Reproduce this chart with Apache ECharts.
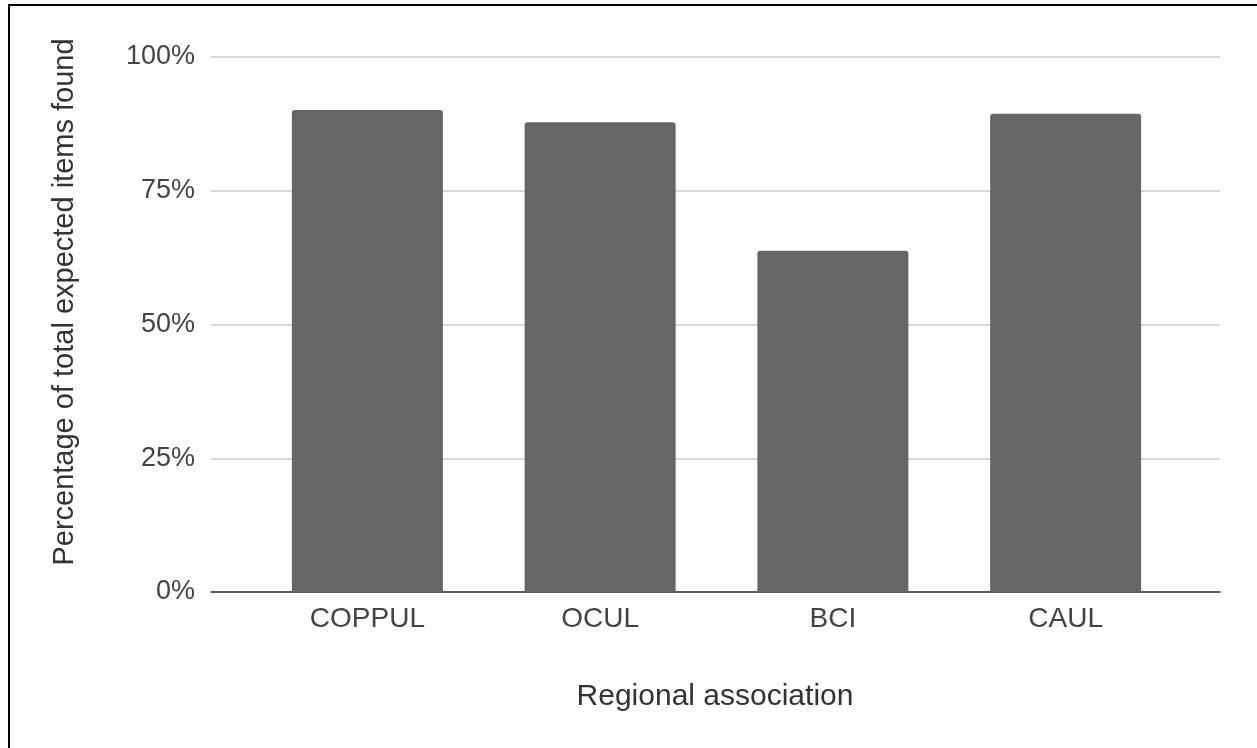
<!DOCTYPE html>
<html>
<head>
<meta charset="utf-8">
<script src="https://cdn.jsdelivr.net/npm/echarts@6/dist/echarts.min.js"></script>
<style>
  html, body { margin: 0; padding: 0; background: #fff; overflow: hidden; }
  #wrap { position: relative; width: 1257px; height: 748px; }
  #frame { position: absolute; left: 8px; top: 4px; width: 1300px; height: 800px; border-left: 2px solid #000; border-top: 2px solid #000; pointer-events: none; z-index: 5; }
  #chart { position: absolute; left: 0; top: 0; width: 1257px; height: 748px; }
</style>
</head>
<body>
<div id="wrap">
  <div id="chart"></div>
  <div id="frame"></div>
</div>
<script>
const categories = ['COPPUL', 'OCUL', 'BCI', 'CAUL'];
const values = [90.1, 87.8, 63.8, 89.4];
const yTicks = [0, 25, 50, 75, 100];
const xTitle = 'Regional association';
const yTitle = 'Percentage of total expected items found';

const FONT = '"Liberation Sans", Arial, sans-serif';
const chart = echarts.init(document.getElementById('chart'), null, { renderer: 'canvas' });
const option = {
  backgroundColor: '#ffffff',
  animation: false,
  textStyle: { fontFamily: FONT },
  grid: [
    { left: 211, right: 37, top: 57, bottom: 156 },
    { left: 251, right: 75, top: 57, bottom: 156 }
  ],
  graphic: [
    {
      type: 'text', x: 715, y: 697,
      style: { text: xTitle, font: '30px "Liberation Sans", Arial, sans-serif', fill: '#333333', align: 'center', verticalAlign: 'middle' }
    },
    {
      type: 'text', x: 65, y: 302, rotation: Math.PI / 2,
      style: { text: yTitle, font: '29px "Liberation Sans", Arial, sans-serif', fill: '#333333', align: 'center', verticalAlign: 'middle' }
    }
  ],
  xAxis: [
    {
      type: 'category', gridIndex: 0, data: categories,
      axisLine: { show: true, lineStyle: { color: '#333333', width: 1.5 } },
      axisTick: { show: false }, axisLabel: { show: false }
    },
    {
      type: 'category', gridIndex: 1, data: categories,
      axisLine: { show: false }, axisTick: { show: false },
      axisLabel: { fontFamily: FONT, fontSize: 28, color: '#444444', margin: 13 }
    }
  ],
  yAxis: [
    {
      type: 'value', gridIndex: 0, min: yTicks[0], max: yTicks[yTicks.length - 1], interval: 25,
      axisLine: { show: false }, axisTick: { show: false },
      axisLabel: { formatter: '{value}%', fontFamily: FONT, fontSize: 27, color: '#444444', margin: 16 },
      splitLine: { show: true, lineStyle: { color: '#cccccc', width: 1.5 } }
    },
    {
      type: 'value', gridIndex: 1, min: yTicks[0], max: yTicks[yTicks.length - 1], interval: 25,
      show: false, splitLine: { show: false }
    }
  ],
  series: [
    {
      type: 'bar', xAxisIndex: 1, yAxisIndex: 1, data: values,
      barWidth: 151,
      itemStyle: { color: '#666666', borderRadius: [3, 3, 0, 0] },
      z: 3
    }
  ]
};
chart.setOption(option);
</script>
</body>
</html>
